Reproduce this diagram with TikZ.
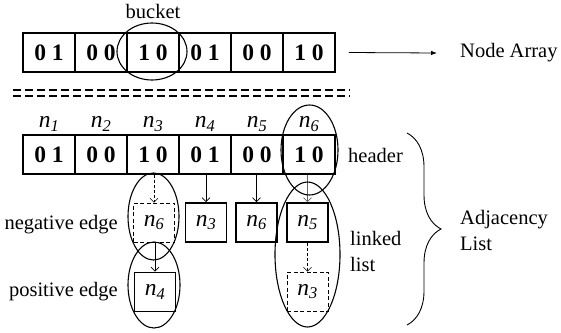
\documentclass[tikz,border=0pt]{standalone}
\usepackage{fontspec}
\setmainfont{Liberation Serif}
\usetikzlibrary{shapes.geometric,arrows.meta,decorations.pathreplacing}
\newcommand{\nsub}[1]{\textit{n}\textsubscript{\textit{#1}}}
\begin{document}
\begin{tikzpicture}[x=1pt,y=-1pt,
  cell/.style={draw, line width=1.9pt, minimum width=52pt, minimum height=39pt, inner sep=0pt, font=\fontsize{23.5}{24}\selectfont\bfseries},
  lbox/.style={draw, line width=1.9pt, minimum width=41pt, minimum height=39pt, inner sep=0pt, font=\fontsize{23.5}{24}\selectfont},
  dbox/.style={lbox, line width=0.8pt, dash pattern=on 4pt off 2.5pt},
  oval/.style={draw, ellipse, line width=1.1pt, inner sep=0pt},
  arr/.style={-{Straight Barb[length=4pt,width=8pt]}, line width=0.6pt},
  darr/.style={arr, dash pattern=on 3pt off 2pt},
  lbl/.style={font=\fontsize{20.5}{26}\selectfont, inner sep=0pt},
  nlbl/.style={font=\fontsize{23.5}{24}\selectfont, inner sep=0pt},
  sep/.style={line width=2pt, dash pattern=on 7.5pt off 4.5pt}
]
\useasboundingbox (0,0) rectangle (561,332);

% top node array
\node[cell] (t1) at (49,52.5) {0 1};
\node[cell] (t2) at (101,52.5) {0 0};
\node[cell] (t3) at (153,52.5) {1 0};
\node[cell] (t4) at (205,52.5) {0 1};
\node[cell] (t5) at (257,52.5) {0 0};
\node[cell] (t6) at (309,52.5) {1 0};
\node[oval, minimum width=70pt, minimum height=57pt] (bucketoval) at (152,51.5) {};
\node[lbl] (bucket) at (153,11) {bucket};
\node[lbl, anchor=west] (nodearray) at (460,53) {Node Array};
\draw[line width=0.8pt, -{Latex[length=6pt,width=4.5pt]}] ([xshift=13pt]t6.east) -- ([xshift=-23pt]nodearray.west);

% separator
\draw[sep] (13,90) -- (350,90);
\draw[sep] (13,95.5) -- (350,95.5);

% bottom header array
\node[cell] (b1) at (49,154.5) {0 1};
\node[cell] (b2) at (101,154.5) {0 0};
\node[cell] (b3) at (153,154.5) {1 0};
\node[cell] (b4) at (205,154.5) {0 1};
\node[cell] (b5) at (257,154.5) {0 0};
\node[cell] (b6) at (309,154.5) {1 0};
\node[nlbl] (l1) at (49,124) {\nsub{1}};
\node[nlbl] (l2) at (101,124) {\nsub{2}};
\node[nlbl] (l3) at (153,124) {\nsub{3}};
\node[nlbl] (l4) at (205,124) {\nsub{4}};
\node[nlbl] (l5) at (257,124) {\nsub{5}};
\node[nlbl] (l6) at (309,124) {\nsub{6}};

% linked nodes
\node[dbox] (e6) at (154,222.5) {\nsub{6}};
\node[lbox] (e3) at (206,222.5) {\nsub{3}};
\node[lbox] (e6b) at (256.5,222.5) {\nsub{6}};
\node[lbox] (e5) at (307.5,222.5) {\nsub{5}};
\node[lbox] (e4) at (155,292) {\nsub{4}};
\node[dbox] (e3d) at (307.5,291.5) {\nsub{3}};

\draw[darr] (b3.south -| e6.north) -- (e6.north);
\draw[arr] (b4.south -| e3.north) -- (e3.north);
\draw[arr] (b5.south -| e6b.north) -- (e6b.north);
\draw[arr, draw=black!60] (b6.south -| e5.north) -- (e5.north);
\draw[arr] (e6.south -| e4.north) -- (e4.north);
\draw[darr] (e5.south) -- (e3d.north);

% ovals
\node[oval, minimum width=57pt, minimum height=90pt] (headoval) at (309.5,150) {};
\node[oval, minimum width=51pt, minimum height=87pt] (negoval) at (153.5,216.5) {};
\node[oval, minimum width=52pt, minimum height=86pt] (posoval) at (154,285) {};
\node[oval, minimum width=65pt, minimum height=145pt] (listoval) at (307.5,254.5) {};

% labels
\node[lbl, anchor=east] (neg) at (118,225) {negative edge};
\node[lbl, anchor=east] (pos) at (118,292) {positive edge};
\node[lbl, anchor=west] (header) at (348,155) {header};
\node[lbl, anchor=west, align=left] (linked) at (350,251.5) {linked\\list};
\node[lbl, anchor=west, align=left] (adj) at (460,230) {Adjacency\\List};

\coordinate (brtop) at (407,133);
\coordinate (brbot) at (407,325);
\draw[line width=0.9pt, decorate, decoration={brace, amplitude=34pt, aspect=0.5}] (brtop) -- (brbot);
\end{tikzpicture}
\end{document}
